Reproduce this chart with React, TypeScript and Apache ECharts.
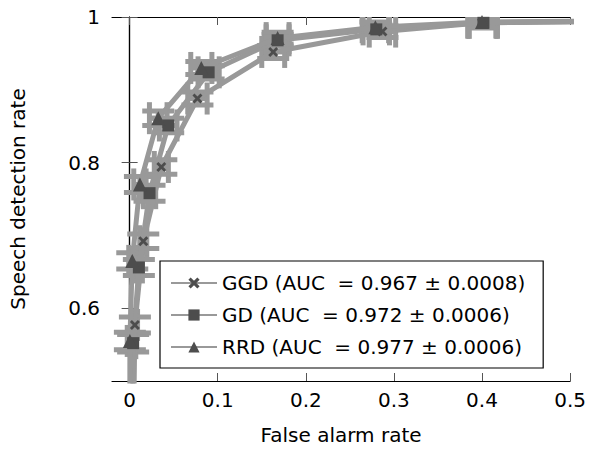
import React, { useEffect, useRef } from "react";
import * as echarts from "echarts";

// ---- data ----
const ggdX = [0.006, 0.0155, 0.036, 0.077, 0.163, 0.287, 0.4];
const ggdY = [0.577, 0.692, 0.794, 0.888, 0.952, 0.98, 0.992];
const ggdXErr = [0.003, 0.004, 0.008, 0.011, 0.013, 0.015, 0.016];
const ggdYErr = [0.011, 0.01, 0.01, 0.009, 0.009, 0.008, 0.007];

const gdX = [0.004, 0.0105, 0.0226, 0.0438, 0.0897, 0.168, 0.28, 0.4016];
const gdY = [0.552, 0.656, 0.758, 0.851, 0.924, 0.968, 0.983, 0.992];
const gdXErr = [0.003, 0.004, 0.007, 0.01, 0.012, 0.013, 0.015, 0.016];
const gdYErr = [0.012, 0.011, 0.011, 0.01, 0.009, 0.008, 0.007, 0.006];

const rrdX = [0.0003, 0.003, 0.0117, 0.0325, 0.0814, 0.168, 0.279, 0.4];
const rrdY = [0.555, 0.665, 0.77, 0.861, 0.93, 0.971, 0.986, 0.993];
const rrdXErr = [0.003, 0.004, 0.007, 0.01, 0.012, 0.013, 0.015, 0.016];
const rrdYErr = [0.012, 0.011, 0.011, 0.01, 0.009, 0.008, 0.007, 0.006];

// ROC end points (curves leave the visible window)
const rocStart = [0, 0];
const rocEnd = [1, 1];

const seriesNames = [
  "GGD (AUC  = 0.967 ± 0.0008)",
  "GD (AUC  = 0.972 ± 0.0006)",
  "RRD (AUC  = 0.977 ± 0.0006)",
];

const xTicks = [0, 0.1, 0.2, 0.3, 0.4, 0.5];
const yTicks = [0.6, 0.8, 1];

const LINE = "#999999";
const MARK = "#4d4d4d";
const FONT = "DejaVu Sans";
const XSYM =
  "path://M0,2 L2,0 L5,3 L8,0 L10,2 L7,5 L10,8 L8,10 L5,7 L2,10 L0,8 L3,5 Z";

function lineData(xs: number[], ys: number[]) {
  const pts: any[] = [{ value: rocStart, symbol: "none" }];
  xs.forEach((x, i) => pts.push([x, ys[i]]));
  pts.push({ value: rocEnd, symbol: "none" });
  return pts;
}

function errData(xs: number[], ys: number[], ex: number[], ey: number[]) {
  return xs.map((x, i) => [x, ys[i], ex[i], ey[i]]);
}

function errRender(params: any, api: any) {
  const x = api.value(0);
  const y = api.value(1);
  const dx = api.value(2);
  const dy = api.value(3);
  const c = api.coord([x, y]);
  const l = api.coord([x - dx, y]);
  const r = api.coord([x + dx, y]);
  const t = api.coord([x, y + dy]);
  const b = api.coord([x, y - dy]);
  const cap = 16;
  const style = { stroke: LINE, lineWidth: 5, fill: null };
  const seg = (x1: number, y1: number, x2: number, y2: number) => ({
    type: "line",
    shape: { x1, y1, x2, y2 },
    style,
  });
  return {
    type: "group",
    children: [
      seg(l[0], c[1], r[0], c[1]),
      seg(l[0], c[1] - cap, l[0], c[1] + cap),
      seg(r[0], c[1] - cap, r[0], c[1] + cap),
      seg(c[0], t[1], c[0], b[1]),
      seg(c[0] - cap, t[1], c[0] + cap, t[1]),
      seg(c[0] - cap, b[1], c[0] + cap, b[1]),
    ],
  };
}

export default function App() {
  const ref = useRef<HTMLDivElement>(null);
  useEffect(() => {
    if (!ref.current) return;
    document.body.style.margin = "0";
    const chart = echarts.init(ref.current, undefined, { renderer: "svg" });
    const axisLine = { show: true, lineStyle: { color: "#000", width: 1.2 } };
    const tickStyle = { color: "#555", width: 1 };
    const xBase = {
      type: "value",
      min: -0.02,
      max: 0.5,
      splitLine: { show: false },
      axisLine,
    };
    const yBase = {
      type: "value",
      min: 0.5,
      max: 1,
      splitLine: { show: false },
      axisLine,
    };
    const makeLine = (name: string, xs: number[], ys: number[], symbol: string, size: number) => ({
      type: "line",
      name,
      data: lineData(xs, ys),
      symbol,
      symbolSize: size,
      showAllSymbol: true,
      clip: true,
      z: 3,
      lineStyle: { color: LINE, width: 5 },
      itemStyle: { color: MARK, borderWidth: 0 },
    });
    const makeErr = (xs: number[], ys: number[], ex: number[], ey: number[]) => ({
      type: "custom",
      renderItem: errRender,
      data: errData(xs, ys, ex, ey),
      clip: true,
      z: 2,
      silent: true,
      encode: { x: 0, y: 1 },
    });
    chart.setOption({
      animation: false,
      textStyle: { fontFamily: FONT },
      grid: { left: 111, top: 17, right: 18, bottom: 68, containLabel: false },
      xAxis: [
        {
          ...xBase,
          position: "bottom",
          name: "False alarm rate",
          nameLocation: "middle",
          nameGap: 44,
          nameTextStyle: { fontFamily: FONT, fontSize: 20, color: "#000" },
          axisTick: { show: true, inside: true, length: 8, lineStyle: tickStyle, customValues: xTicks },
          axisLabel: {
            show: true,
            margin: 9,
            fontFamily: FONT,
            fontSize: 20,
            color: "#000",
            customValues: xTicks,
            formatter: (v: number) => String(+v.toFixed(2)),
          },
        },
        {
          ...xBase,
          position: "top",
          axisTick: { show: true, inside: true, length: 8, lineStyle: tickStyle, customValues: xTicks },
          axisLabel: { show: false },
        },
      ],
      yAxis: [
        {
          ...yBase,
          position: "left",
          name: "Speech detection rate",
          nameLocation: "middle",
          nameRotate: 90,
          nameGap: 84,
          nameTextStyle: { fontFamily: FONT, fontSize: 20, color: "#000" },
          axisTick: { show: true, inside: true, length: 8, lineStyle: tickStyle, customValues: yTicks },
          axisLabel: {
            show: true,
            margin: 12,
            fontFamily: FONT,
            fontSize: 20,
            color: "#000",
            customValues: yTicks,
            formatter: (v: number) => String(+v.toFixed(2)),
          },
        },
        {
          ...yBase,
          position: "right",
          axisTick: { show: true, inside: true, length: 8, lineStyle: tickStyle, customValues: yTicks },
          axisLabel: { show: false },
        },
      ],
      legend: {
        orient: "vertical",
        left: 160,
        top: 261,
        padding: [12, 18, 11, 10],
        itemGap: 12,
        itemWidth: 46,
        itemHeight: 14,
        borderColor: "#000",
        borderWidth: 1.2,
        backgroundColor: "#fff",
        textStyle: { fontFamily: FONT, fontSize: 20, color: "#000" },
        data: seriesNames,
        z: 10,
      },
      series: [
        makeErr(ggdX, ggdY, ggdXErr, ggdYErr),
        makeErr(gdX, gdY, gdXErr, gdYErr),
        makeErr(rrdX, rrdY, rrdXErr, rrdYErr),
        makeLine(seriesNames[0], ggdX, ggdY, XSYM, 10),
        makeLine(seriesNames[1], gdX, gdY, "rect", 12),
        makeLine(seriesNames[2], rrdX, rrdY, "triangle", 14),
      ],
    });
    return () => chart.dispose();
  }, []);
  return <div ref={ref} style={{ width: 589, height: 450 }} />;
}
